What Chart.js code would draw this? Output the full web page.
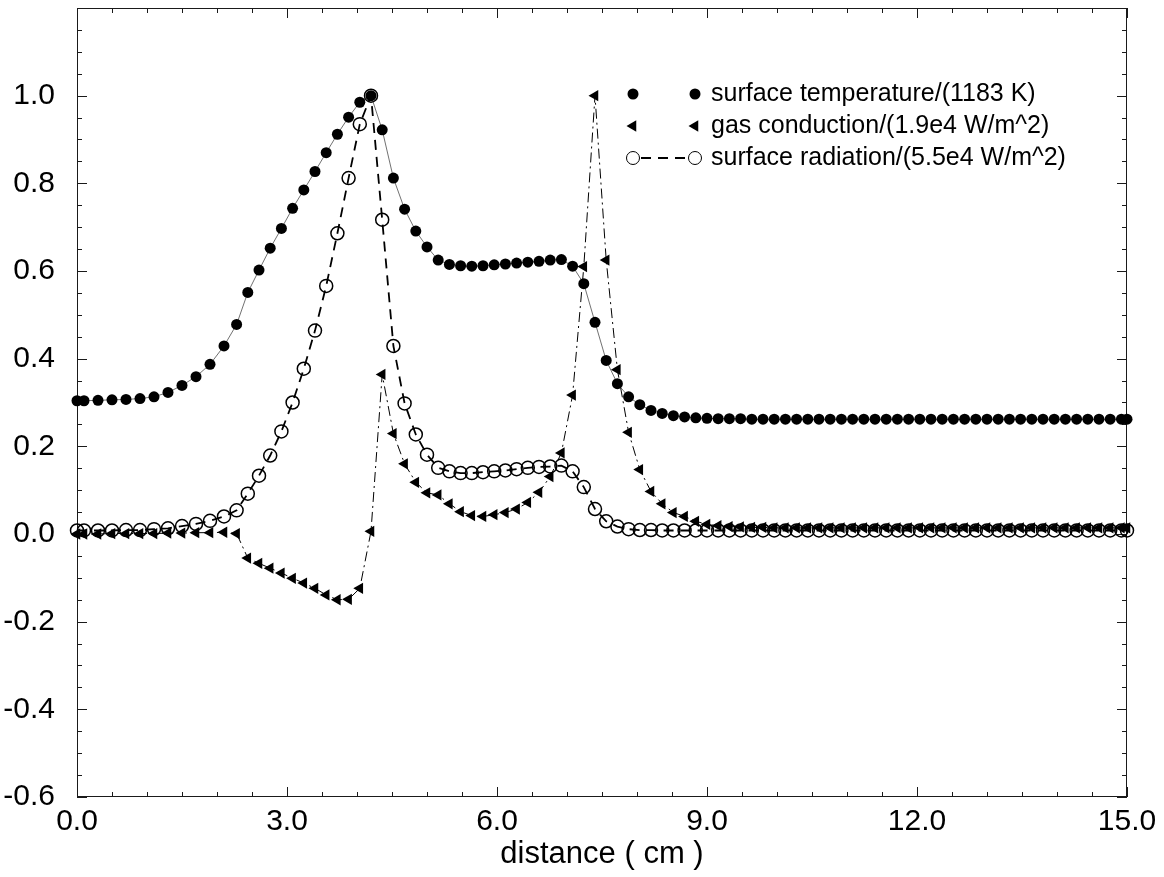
<!DOCTYPE html>
<html>
<head>
<meta charset="utf-8">
<title>Surface temperature, gas conduction and surface radiation</title>
<script src="https://cdn.jsdelivr.net/npm/chart.js@4.4.0/dist/chart.umd.min.js"></script>
<style>
    html, body { margin: 0; padding: 0; background: #fff; }
    #wrap { width: 1164px; height: 877px; }
</style>
</head>
<body>
<div id="wrap"><canvas id="chart" width="1164" height="877"></canvas></div>
<script>
// distance along the sample (cm) - one node per point
const distance = [
    0, 0.1, 0.3, 0.5, 0.7, 0.9, 1.1, 1.3, 1.5, 1.7, 1.9, 2.1,
    2.28, 2.44, 2.60, 2.76, 2.92, 3.08, 3.24, 3.40, 3.56, 3.72,
    3.88, 4.04, 4.20, 4.36, 4.52, 4.68, 4.84, 5.00, 5.16, 5.32,
    5.48, 5.64, 5.80, 5.96, 6.12, 6.28, 6.44, 6.60, 6.76, 6.92,
    7.08, 7.24, 7.40, 7.56, 7.72, 7.88, 8.04, 8.20, 8.36, 8.52,
    8.68, 8.84, 9.00, 9.16, 9.32, 9.48, 9.64, 9.80, 9.96, 10.12,
    10.28, 10.44, 10.60, 10.76, 10.92, 11.08, 11.24, 11.40, 11.56, 11.72,
    11.88, 12.04, 12.20, 12.36, 12.52, 12.68, 12.84, 13.00, 13.16, 13.32,
    13.48, 13.64, 13.80, 13.96, 14.12, 14.28, 14.44, 14.60, 14.76, 14.92,
    15.0
];

// surface temperature / (1183 K)
const surfaceTemp = [
    0.304, 0.304, 0.305, 0.306, 0.307, 0.309, 0.313, 0.323, 0.339, 0.359, 0.387, 0.429,
    0.478, 0.551, 0.602, 0.652, 0.697, 0.743, 0.785, 0.827, 0.870, 0.912,
    0.951, 0.985, 1.000, 0.922, 0.812, 0.741, 0.691, 0.655, 0.625, 0.615,
    0.612, 0.611, 0.612, 0.614, 0.616, 0.618, 0.620, 0.622, 0.625, 0.626,
    0.611, 0.571, 0.483, 0.396, 0.343, 0.313, 0.295, 0.282, 0.275, 0.270,
    0.267, 0.265, 0.264, 0.263, 0.263, 0.263, 0.262, 0.262, 0.262, 0.262,
    0.262, 0.262, 0.262, 0.262, 0.262, 0.262, 0.262, 0.262, 0.262, 0.262,
    0.262, 0.262, 0.262, 0.262, 0.262, 0.262, 0.262, 0.262, 0.262, 0.262,
    0.262, 0.262, 0.262, 0.262, 0.262, 0.262, 0.262, 0.262, 0.262, 0.262,
    0.262
];

// gas conduction / (1.9e4 W/m^2)
const gasConduction = [
    0.000, 0.000, 0.000, 0.001, 0.001, 0.001, 0.001, 0.002, 0.002, 0.003, 0.003, 0.004,
    0.001, -0.055, -0.067, -0.078, -0.089, -0.101, -0.112, -0.124, -0.139, -0.150,
    -0.149, -0.124, 0.006, 0.364, 0.229, 0.160, 0.118, 0.094, 0.089, 0.069,
    0.051, 0.042, 0.040, 0.044, 0.049, 0.057, 0.072, 0.095, 0.131, 0.185,
    0.317, 0.610, 1.000, 0.625, 0.375, 0.232, 0.147, 0.097, 0.069, 0.049,
    0.040, 0.029, 0.022, 0.019, 0.017, 0.016, 0.015, 0.015, 0.014, 0.014,
    0.014, 0.014, 0.014, 0.014, 0.014, 0.014, 0.014, 0.014, 0.014, 0.014,
    0.014, 0.014, 0.014, 0.014, 0.014, 0.014, 0.014, 0.014, 0.014, 0.014,
    0.014, 0.014, 0.014, 0.014, 0.014, 0.014, 0.014, 0.014, 0.014, 0.014,
    0.014
];

// surface radiation / (5.5e4 W/m^2)
const surfaceRad = [
    0.008, 0.008, 0.008, 0.008, 0.009, 0.009, 0.011, 0.013, 0.018, 0.023, 0.030, 0.040,
    0.054, 0.092, 0.133, 0.179, 0.234, 0.300, 0.377, 0.464, 0.566, 0.686,
    0.812, 0.935, 1.000, 0.717, 0.429, 0.298, 0.227, 0.181, 0.151, 0.143,
    0.139, 0.139, 0.141, 0.143, 0.145, 0.148, 0.151, 0.153, 0.154, 0.156,
    0.143, 0.107, 0.057, 0.029, 0.017, 0.011, 0.009, 0.009, 0.008, 0.008,
    0.008, 0.008, 0.008, 0.008, 0.008, 0.008, 0.008, 0.008, 0.008, 0.008,
    0.008, 0.008, 0.008, 0.008, 0.008, 0.008, 0.008, 0.008, 0.008, 0.008,
    0.008, 0.008, 0.008, 0.008, 0.008, 0.008, 0.008, 0.008, 0.008, 0.008,
    0.008, 0.008, 0.008, 0.008, 0.008, 0.008, 0.008, 0.008, 0.008, 0.008,
    0.008
];

const seriesLabels = [
    'surface temperature/(1183 K)',
    'gas conduction/(1.9e4 W/m^2)',
    'surface radiation/(5.5e4 W/m^2)'
];

const FONT = '"Liberation Sans", Arial, Helvetica, sans-serif';

function toPoints(values) {
    return distance.map((d, i) => ({ x: d, y: values[i] }));
}

// box frame with inward major/minor ticks on all four sides
const frameTicks = {
    id: 'frameTicks',
    beforeDatasetsDraw(chart) {
        const { ctx, chartArea: a, scales: { x, y } } = chart;
        ctx.save();
        ctx.strokeStyle = '#1a1a1a';
        ctx.lineWidth = 1;
        ctx.strokeRect(a.left + 0.5, a.top + 0.5, a.right - a.left - 1, a.bottom - a.top - 1);
        ctx.beginPath();
        for (let i = 0; i <= 30; i++) {
            const px = Math.round(x.getPixelForValue(i * 0.5)) + 0.5;
            const len = i % 6 === 0 ? 10 : 5;
            ctx.moveTo(px, a.bottom); ctx.lineTo(px, a.bottom - len);
            ctx.moveTo(px, a.top); ctx.lineTo(px, a.top + len);
        }
        for (let i = 0; i <= 36; i++) {
            const py = Math.round(y.getPixelForValue(-0.6 + i * 0.05)) + 0.5;
            const len = i % 4 === 0 ? 10 : 5;
            ctx.moveTo(a.left, py); ctx.lineTo(a.left + len, py);
            ctx.moveTo(a.right, py); ctx.lineTo(a.right - len, py);
        }
        ctx.stroke();
        ctx.restore();
    }
};

// legend drawn inside the plot, top right, in the old plotting style
const insideLegend = {
    id: 'insideLegend',
    afterDatasetsDraw(chart) {
        const { ctx, chartArea: a } = chart;
        const x1 = a.left + 556, x2 = a.left + 618, tx = a.left + 634;
        ctx.save();
        ctx.font = '25px ' + FONT;
        ctx.textBaseline = 'middle';
        ctx.fillStyle = '#000';
        seriesLabels.forEach((label, i) => {
            const ds = chart.data.datasets[i];
            const yy = a.top + 86 + i * 32;
            const opts = {
                pointStyle: ds.pointStyle,
                radius: ds.pointRadius,
                rotation: ds.pointRotation || 0,
                borderWidth: ds.pointBorderWidth
            };
            if (i === 2) {
                ctx.save();
                ctx.strokeStyle = '#000';
                ctx.lineWidth = ds.borderWidth;
                ctx.setLineDash(ds.borderDash);
                ctx.beginPath();
                ctx.moveTo(x1 + 8, yy);
                ctx.lineTo(x2 - 6, yy);
                ctx.stroke();
                ctx.restore();
            }
            ctx.fillStyle = ds.pointBackgroundColor;
            ctx.strokeStyle = ds.pointBorderColor;
            Chart.helpers.drawPoint(ctx, opts, x1, yy);
            Chart.helpers.drawPoint(ctx, opts, x2, yy);
            ctx.fillStyle = '#000';
            ctx.fillText(label, tx, yy);
        });
        ctx.restore();
    }
};

const ctx = document.getElementById('chart').getContext('2d');

new Chart(ctx, {
    type: 'line',
    data: {
        datasets: [{
            label: seriesLabels[0],
            data: toPoints(surfaceTemp),
            borderColor: '#333',
            borderWidth: 0.7,
            pointStyle: 'circle',
            pointRadius: 5.5,
            pointBackgroundColor: '#000',
            pointBorderColor: '#000',
            pointBorderWidth: 0,
            clip: 12
        }, {
            label: seriesLabels[1],
            data: toPoints(gasConduction),
            borderColor: '#000',
            borderWidth: 1,
            borderDash: [10, 4, 2, 4],
            pointStyle: 'triangle',
            pointRotation: -90,
            pointRadius: 6.5,
            pointBackgroundColor: '#000',
            pointBorderColor: '#000',
            pointBorderWidth: 0,
            clip: 12
        }, {
            label: seriesLabels[2],
            data: toPoints(surfaceRad),
            borderColor: '#000',
            borderWidth: 1.8,
            borderDash: [10, 7],
            pointStyle: 'circle',
            pointRadius: 6.5,
            pointBackgroundColor: 'rgba(0,0,0,0)',
            pointBorderColor: '#000',
            pointBorderWidth: 1.5,
            clip: 12
        }]
    },
    options: {
        responsive: false,
        animation: false,
        layout: { padding: { top: 8, right: 37, left: 0, bottom: 0 } },
        plugins: {
            legend: { display: false },
            tooltip: { enabled: false }
        },
        elements: { line: { tension: 0, fill: false } },
        scales: {
            x: {
                type: 'linear',
                min: 0,
                max: 15,
                afterFit(scale) {
                    scale.height = 80;
                    scale.paddingLeft = 0;
                    scale.paddingRight = 0;
                },
                grid: { display: false, drawTicks: false },
                border: { display: false },
                ticks: {
                    stepSize: 3,
                    padding: 7,
                    color: '#000',
                    font: { family: FONT, size: 30 },
                    callback: v => v.toFixed(1)
                },
                title: {
                    display: true,
                    text: 'distance ( cm )',
                    color: '#000',
                    font: { family: FONT, size: 31 },
                    padding: { top: 0, bottom: 4 }
                }
            },
            y: {
                min: -0.6,
                max: 1.2,
                afterFit(scale) {
                    scale.width = 77;
                    scale.paddingTop = 0;
                    scale.paddingBottom = 0;
                },
                grid: { display: false, drawTicks: false },
                border: { display: false },
                ticks: {
                    stepSize: 0.2,
                    padding: 22,
                    color: '#000',
                    font: { family: FONT, size: 30 },
                    callback: v => (v > 1.1 ? '' : (Math.abs(v) < 1e-9 ? 0 : v).toFixed(1))
                }
            }
        }
    },
    plugins: [frameTicks, insideLegend]
});
</script>
</body>
</html>
